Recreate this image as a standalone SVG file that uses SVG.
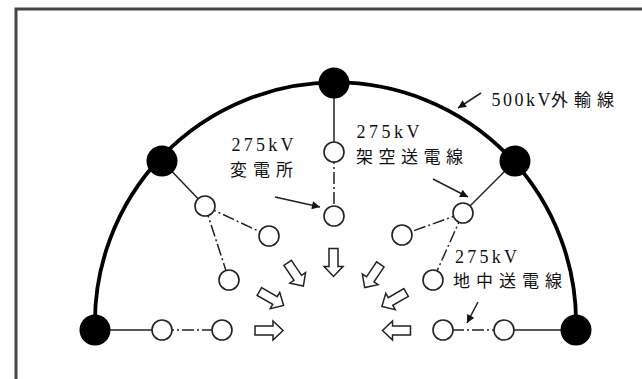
<svg xmlns="http://www.w3.org/2000/svg" width="642" height="379" viewBox="0 0 642 379">
<defs>
<style>
.frame{fill:none;stroke:#444;stroke-width:3}
.bus{fill:none;stroke:#000;stroke-width:3.8}
.solid{stroke:#222;stroke-width:1.5;fill:none}
.dd{stroke:#222;stroke-width:1.5;fill:none;stroke-dasharray:12 3 2 3}
.ptr{stroke:#222;stroke-width:1.5;fill:none;marker-end:url(#ah)}
.big{fill:#000}
.sub{fill:#fff;stroke:#222;stroke-width:1.6}
.flow{fill:#fff;stroke:#222;stroke-width:1.5;stroke-linejoin:miter}
.lat{font-family:"Liberation Serif","Noto Sans CJK JP",serif;font-size:18px;fill:#111}
.cjk{font-family:"Noto Sans CJK JP",sans-serif;font-size:17px;fill:#111}
</style>
<marker id="ah" viewBox="0 0 10 10" refX="10" refY="5" markerWidth="9" markerHeight="8" markerUnits="userSpaceOnUse" orient="auto">
<path d="M0,0 L10,5 L0,10 Z" fill="#111"/>
</marker>
<path id="fa" d="M-14,-4.5 L4,-4.5 L4,-9.5 L14,0 L4,9.5 L4,4.5 L-14,4.5 Z"/>
</defs>
<rect width="642" height="379" fill="#fff"/>
<rect class="frame" x="16" y="9" width="700" height="500"/>

<g id="connectors">
<path class="bus" d="M95,330 A240.6,240.6 0 1 1 576,330"/>
<line class="solid" x1="334" y1="83" x2="334" y2="152"/>
<line class="solid" x1="162" y1="161" x2="205" y2="206"/>
<line class="solid" x1="95" y1="330" x2="162" y2="330"/>
<line class="solid" x1="515" y1="161" x2="463" y2="213"/>
<line class="solid" x1="576" y1="330" x2="504" y2="330"/>
<line class="dd" x1="334" y1="152" x2="334" y2="216"/>
<line class="dd" x1="205" y1="206" x2="269" y2="236"/>
<line class="dd" x1="205" y1="206" x2="229" y2="280"/>
<line class="dd" x1="162" y1="330" x2="222" y2="330"/>
<line class="dd" x1="463" y1="213" x2="402" y2="235"/>
<line class="dd" x1="463" y1="213" x2="433" y2="280"/>
<line class="dd" x1="504" y1="330" x2="443" y2="330"/>
<line class="ptr" x1="481" y1="93" x2="458" y2="108"/>
<line class="ptr" x1="275" y1="197" x2="320" y2="207"/>
<line class="ptr" x1="433" y1="179" x2="468" y2="197"/>
<line class="ptr" x1="478" y1="302" x2="467" y2="323"/>
</g>

<g id="ss500-top"><circle class="big" cx="334" cy="83" r="15.5"/></g>
<g id="ss500-ul"><circle class="big" cx="162" cy="161" r="15.5"/></g>
<g id="ss500-ur"><circle class="big" cx="515" cy="161" r="15.5"/></g>
<g id="ss500-ll"><circle class="big" cx="95" cy="330" r="15.5"/></g>
<g id="ss500-lr"><circle class="big" cx="576" cy="330" r="15.5"/></g>

<g id="ss275-c1"><circle class="sub" cx="334" cy="152" r="10"/></g>
<g id="ss275-c2"><circle class="sub" cx="334" cy="216" r="10"/></g>
<g id="ss275-l1"><circle class="sub" cx="205" cy="206" r="10"/></g>
<g id="ss275-l2"><circle class="sub" cx="269" cy="236" r="10"/></g>
<g id="ss275-l3"><circle class="sub" cx="229" cy="280" r="10"/></g>
<g id="ss275-l4"><circle class="sub" cx="162" cy="330" r="10"/></g>
<g id="ss275-l5"><circle class="sub" cx="222" cy="330" r="10"/></g>
<g id="ss275-r1"><circle class="sub" cx="463" cy="213" r="10"/></g>
<g id="ss275-r2"><circle class="sub" cx="402" cy="235" r="10"/></g>
<g id="ss275-r3"><circle class="sub" cx="433" cy="280" r="10"/></g>
<g id="ss275-r4"><circle class="sub" cx="504" cy="330" r="10"/></g>
<g id="ss275-r5"><circle class="sub" cx="443" cy="330" r="10"/></g>

<g id="flows">
<use href="#fa" class="flow" transform="translate(333.5,262.5) rotate(90)"/>
<use href="#fa" class="flow" transform="translate(295.5,274.5) rotate(56)"/>
<use href="#fa" class="flow" transform="translate(271.5,298.5) rotate(30)"/>
<use href="#fa" class="flow" transform="translate(269,330.5)"/>
<use href="#fa" class="flow" transform="translate(372.5,276) rotate(124)"/>
<use href="#fa" class="flow" transform="translate(394,299.5) rotate(150)"/>
<use href="#fa" class="flow" transform="translate(396.5,330.5) rotate(180)"/>
</g>

<g id="labels">
<text x="491.5" y="106"><tspan class="lat" textLength="59" lengthAdjust="spacing">500kV</tspan><tspan class="cjk" x="551" textLength="63" lengthAdjust="spacing">外輸線</tspan></text>
<text class="lat" x="231.5" y="151" textLength="62" lengthAdjust="spacing">275kV</text>
<text class="cjk" x="230" y="176" textLength="63" lengthAdjust="spacing">変電所</text>
<text class="lat" x="356.5" y="138" textLength="63" lengthAdjust="spacing">275kV</text>
<text class="cjk" x="356" y="163" textLength="107" lengthAdjust="spacing">架空送電線</text>
<text class="lat" x="455" y="262.5" textLength="62" lengthAdjust="spacing">275kV</text>
<text class="cjk" x="453" y="287" textLength="109" lengthAdjust="spacing">地中送電線</text>
</g>
</svg>
